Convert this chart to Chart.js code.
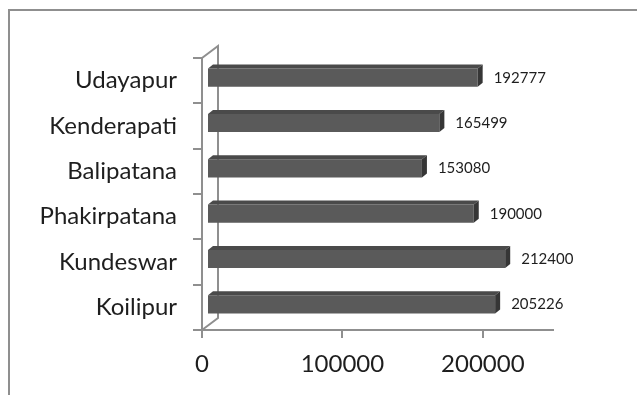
<!DOCTYPE html>
<html>
<head>
<meta charset="utf-8">
<script src="https://cdn.jsdelivr.net/npm/chart.js@4/dist/chart.umd.min.js"></script>
<style>
  html, body { margin: 0; padding: 0; background: #fff; }
</style>
</head>
<body>
<canvas id="towns" width="637" height="395"></canvas>
<script>
var towns = ['Udayapur', 'Kenderapati', 'Balipatana', 'Phakirpatana', 'Kundeswar', 'Koilipur'];
var population = [192777, 165499, 153080, 190000, 212400, 205226];
var xTicks = [0, 100000, 200000];

var lineGray = '#8f8f8f';
var textColor = '#1e1e1e';

// fake 3d: bars sit a bit inside the box, box depth goes back-right
var shift = { x: 5, y: -3 };
var barDepth = { x: 5, y: -4 };
var wallDepth = { x: 16, y: -12 };

var frame3d = {
  id: 'frame3d',
  beforeDatasetsDraw: function (chart) {
    var ctx = chart.ctx, a = chart.chartArea;
    ctx.save();
    // outer chart border (top + left only)
    ctx.strokeStyle = lineGray;
    ctx.lineWidth = 2;
    ctx.beginPath();
    ctx.moveTo(9, chart.height);
    ctx.lineTo(9, 10);
    ctx.lineTo(chart.width, 10);
    ctx.stroke();
    // back wall
    ctx.beginPath();
    ctx.moveTo(a.left, a.top);
    ctx.lineTo(a.left + wallDepth.x, a.top + wallDepth.y);
    ctx.lineTo(a.left + wallDepth.x, a.bottom + wallDepth.y);
    ctx.lineTo(a.left, a.bottom);
    ctx.stroke();
    ctx.restore();
    ctx.save();
    ctx.translate(shift.x, shift.y);
  },
  afterDatasetsDraw: function (chart) {
    var ctx = chart.ctx;
    var meta = chart.getDatasetMeta(0);
    meta.data.forEach(function (bar) {
      var p = bar.getProps(['x', 'y', 'base', 'height'], true);
      var top = p.y - p.height / 2, bottom = p.y + p.height / 2;
      ctx.fillStyle = '#4a4a4a';
      ctx.beginPath();
      ctx.moveTo(p.base, top);
      ctx.lineTo(p.base + barDepth.x, top + barDepth.y);
      ctx.lineTo(p.x + barDepth.x, top + barDepth.y);
      ctx.lineTo(p.x, top);
      ctx.closePath();
      ctx.fill();
      ctx.fillStyle = '#363636';
      ctx.beginPath();
      ctx.moveTo(p.x, top);
      ctx.lineTo(p.x + barDepth.x, top + barDepth.y);
      ctx.lineTo(p.x + barDepth.x, bottom + barDepth.y);
      ctx.lineTo(p.x, bottom);
      ctx.closePath();
      ctx.fill();
    });
    ctx.restore();

    // value labels
    ctx.save();
    ctx.font = '15px Lato';
    ctx.fillStyle = textColor;
    ctx.textBaseline = 'middle';
    ctx.textAlign = 'left';
    meta.data.forEach(function (bar, i) {
      var p = bar.getProps(['x', 'y'], true);
      ctx.fillText(population[i], p.x + 21, p.y - 3);
    });
    ctx.restore();
  }
};

new Chart(document.getElementById('towns'), {
  type: 'bar',
  data: {
    labels: towns,
    datasets: [{
      data: population,
      backgroundColor: '#5a5a5a',
      borderWidth: 0,
      categoryPercentage: 1,
      barPercentage: 0.4
    }]
  },
  options: {
    indexAxis: 'y',
    responsive: false,
    animation: false,
    layout: { padding: { top: 58, right: 84, left: 0, bottom: 0 } },
    plugins: {
      legend: { display: false },
      tooltip: { enabled: false }
    },
    scales: {
      x: {
        min: 0,
        max: 250000,
        afterBuildTicks: function (scale) {
          scale.ticks = xTicks.map(function (v) { return { value: v }; });
        },
        afterFit: function (scale) { scale.height = 65; },
        grid: { drawOnChartArea: false, color: lineGray, lineWidth: 2, tickLength: 8 },
        border: { color: lineGray, width: 2 },
        ticks: {
          color: textColor, font: { family: 'Lato', size: 24 }, padding: 12, maxRotation: 0,
          callback: function (v) { return String(v); }
        }
      },
      y: {
        afterFit: function (scale) { scale.width = 202; },
        grid: { drawOnChartArea: false, color: lineGray, lineWidth: 2, tickLength: 9 },
        border: { color: lineGray, width: 2 },
        ticks: { color: textColor, font: { family: 'Lato', size: 24 }, padding: 16 }
      }
    }
  },
  plugins: [frame3d]
});
</script>
</body>
</html>
